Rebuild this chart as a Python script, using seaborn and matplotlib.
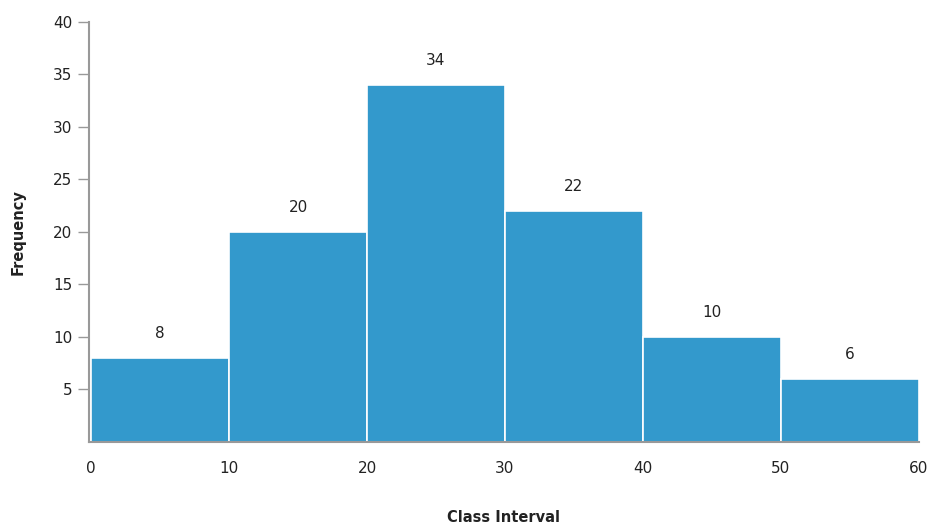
import matplotlib
matplotlib.use("Agg")
import matplotlib.pyplot as plt
import seaborn as sns

# class intervals and frequencies
edges = [0, 10, 20, 30, 40, 50, 60]
mids = [5, 15, 25, 35, 45, 55]
freq = [8, 20, 34, 22, 10, 6]
yticks = [5, 10, 15, 20, 25, 30, 35, 40]

sns.set_style("white")
plt.rcParams['font.family'] = ['DejaVu Sans']

fig = plt.figure(figsize=(9.28, 5.31), dpi=100)
ax = fig.add_axes([0.096, 0.168, 0.894, 0.791])

sns.histplot(x=mids, weights=freq, bins=edges, color="#3399cc", alpha=1,
             edgecolor="white", linewidth=1.2, ax=ax)

ax.bar_label(ax.containers[0], padding=12, fontsize=11, color="#222222")

ax.set_xlim(-0.15, 60)
ax.set_ylim(0, 40)
ax.set_yticks(yticks)
ax.set_xticks(edges)
ax.set_xticklabels([str(e) for e in edges])
ax.tick_params(axis="y", left=True, direction="out", length=8, width=1,
               color="#999999", labelsize=11, labelcolor="#222222", pad=4)
ax.tick_params(axis="x", bottom=False, length=0, labelsize=11,
               labelcolor="#222222", pad=14)

for s in ["top", "right"]:
    ax.spines[s].set_visible(False)
for s in ["left", "bottom"]:
    ax.spines[s].set_color("#999999")
    ax.spines[s].set_linewidth(1.5)

ax.set_xlabel("Class Interval", fontsize=10.5, fontweight="bold", color="#222222", labelpad=24)
ax.set_ylabel("Frequency", fontsize=10.5, fontweight="bold", color="#222222", labelpad=20)

fig.savefig("out.png", dpi=100)
